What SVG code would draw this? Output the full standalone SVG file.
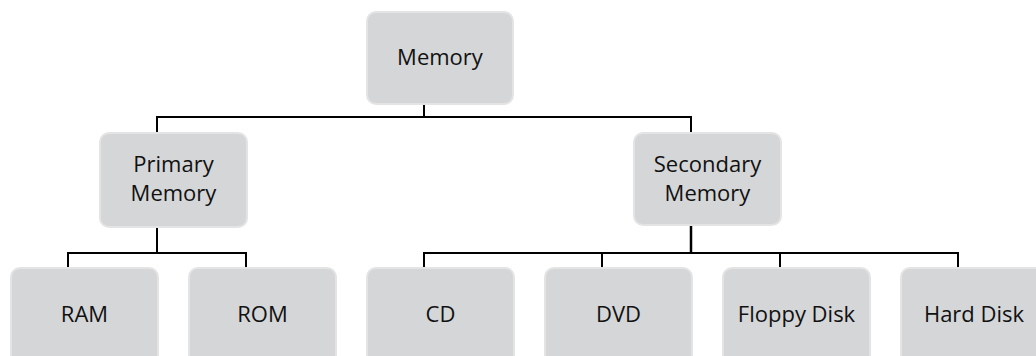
<svg xmlns="http://www.w3.org/2000/svg" width="1036" height="356" viewBox="0 0 1036 356">
  <style>
    .box { fill: #d5d6d8; stroke: #e4e4e5; stroke-width: 2; }
    .label { font-family: "Open Sans", "Noto Sans", sans-serif; font-size: 22px; fill: #111111; text-anchor: middle; }
    .wire { fill: none; stroke: #000000; stroke-width: 2; }
    .stub { fill: none; stroke: #bdbdbd; stroke-width: 2; }
  </style>
  <rect width="1036" height="356" fill="#ffffff"/>

  <!-- connectors -->
  <g id="connectors">
    <path class="stub" d="M424 88 V104"/>
    <path class="wire" d="M424 104 V117 M157 117 H691 M157 116 V133 M691 116 V133"/>
    <path class="wire" d="M157 227 V253 M68 253 H246 M68 252 V268 M246 252 V268"/>
    <path class="wire" d="M691 225 V253" style="stroke-width:2.5"/>
    <path class="wire" d="M424 253 H958 M424 252 V268 M602 252 V268 M780 252 V268 M958 252 V268"/>
  </g>

  <g id="memory">
    <rect class="box" x="367" y="12" width="146" height="92" rx="9"/>
    <text class="label" x="440" y="65">Memory</text>
  </g>

  <g id="primary-memory">
    <rect class="box" x="100" y="133" width="147" height="94" rx="9"/>
    <text class="label" x="173.5" y="172">Primary</text>
    <text class="label" x="173.5" y="201">Memory</text>
  </g>

  <g id="secondary-memory">
    <rect class="box" x="634" y="133" width="147" height="92" rx="9"/>
    <text class="label" x="707.5" y="172">Secondary</text>
    <text class="label" x="707.5" y="201">Memory</text>
  </g>

  <g id="ram">
    <rect class="box" x="11" y="268" width="147" height="96" rx="9"/>
    <text class="label" x="84.5" y="322">RAM</text>
  </g>

  <g id="rom">
    <rect class="box" x="189" y="268" width="147" height="96" rx="9"/>
    <text class="label" x="262.5" y="322">ROM</text>
  </g>

  <g id="cd">
    <rect class="box" x="367" y="268" width="147" height="96" rx="9"/>
    <text class="label" x="440.5" y="322">CD</text>
  </g>

  <g id="dvd">
    <rect class="box" x="545" y="268" width="147" height="96" rx="9"/>
    <text class="label" x="618.5" y="322">DVD</text>
  </g>

  <g id="floppy-disk">
    <rect class="box" x="723" y="268" width="147" height="96" rx="9"/>
    <text class="label" x="796.5" y="322">Floppy Disk</text>
  </g>

  <g id="hard-disk">
    <rect class="box" x="901" y="268" width="147" height="96" rx="9"/>
    <text class="label" x="974" y="322">Hard Disk</text>
  </g>
</svg>
